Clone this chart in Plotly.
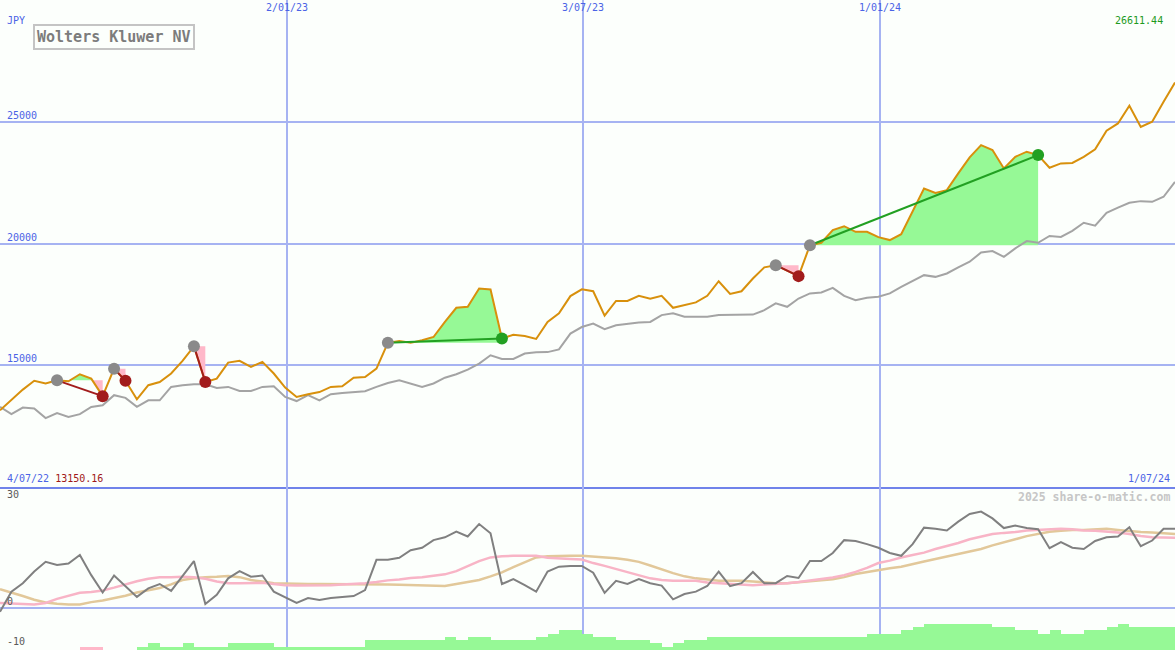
import plotly.graph_objects as go
import pandas as pd

# ---------------- data ----------------
dates = pd.date_range("2022-07-10", periods=104, freq="7D")

price = [13150.16, 13560, 14000, 14360, 14250, 14380, 14340, 14630, 14450, 13730,
         14860, 14360, 13600, 14180, 14310, 14660, 15180, 15780, 14310, 14450,
         15110, 15180, 14930, 15140, 14660, 14080, 13700, 13810, 13900, 14110,
         14140, 14490, 14520, 14860, 15920, 16000, 15920, 16030, 16160, 16780,
         17360, 17400, 18150, 18110, 16100, 16250, 16200, 16080, 16780, 17130,
         17840, 18120, 18040, 17040, 17640, 17640, 17850, 17730, 17850, 17360,
         17480, 17580, 17850, 18450, 17930, 18040, 18560, 19020, 19110, 18900,
         18660, 19930, 20030, 20550, 20710, 20480, 20480, 20260, 20140, 20380,
         21300, 22260, 22080, 22190, 22880, 23540, 24040, 23840, 23080, 23560,
         23770, 23630, 23110, 23290, 23310, 23560, 23870, 24630, 24930, 25660,
         24790, 25000, 25820, 26611.44]

bench = [13290, 12990, 13260, 13220, 12830, 13040, 12880, 12990, 13290, 13360,
         13770, 13660, 13290, 13560, 13560, 14110, 14180, 14220, 14220, 14070,
         14110, 13940, 13940, 14110, 14140, 13700, 13530, 13770, 13560, 13810,
         13860, 13900, 13930, 14110, 14270, 14380, 14250, 14110, 14250, 14490,
         14630, 14820, 15070, 15410, 15260, 15260, 15480, 15530, 15540, 15650,
         16300, 16570, 16710, 16480, 16640, 16710, 16760, 16780, 17060, 17130,
         16990, 16990, 16990, 17060, 17060, 17060, 17080, 17260, 17540, 17400,
         17740, 17950, 17990, 18180, 17850, 17670, 17770, 17810, 17950, 18220,
         18470, 18700, 18630, 18770, 19020, 19250, 19630, 19690, 19450, 19800,
         20100, 20030, 20310, 20270, 20520, 20850, 20730, 21260, 21470, 21670,
         21740, 21710, 21920, 22530]

osc = [-1.0, 4.0, 6.1, 9.0, 11.4, 10.6, 11.0, 13.1, 8.1, 3.8,
       8.0, 5.4, 2.7, 4.8, 5.9, 4.2, 7.9, 11.6, 0.9, 3.2,
       7.3, 9.1, 7.7, 8.0, 4.0, 2.7, 1.2, 2.4, 1.9, 2.4,
       2.7, 2.9, 4.4, 11.9, 11.9, 12.4, 14.3, 14.9, 16.8, 17.5,
       18.9, 17.7, 20.8, 18.5, 5.9, 7.1, 5.6, 4.0, 9.0, 10.2,
       10.4, 10.4, 8.7, 3.7, 6.7, 5.9, 7.1, 6.1, 5.5, 2.1,
       3.4, 4.0, 5.4, 9.0, 5.4, 6.1, 8.9, 6.1, 6.1, 7.9,
       7.4, 11.6, 11.6, 13.6, 16.8, 16.6, 15.8, 14.9, 13.6, 12.9,
       15.8, 19.9, 19.6, 19.2, 21.4, 23.3, 23.9, 22.2, 19.8, 20.4,
       19.8, 19.5, 14.8, 16.3, 14.9, 14.6, 16.6, 17.5, 17.7, 20.0,
       15.3, 16.7, 19.6, 19.6]

osc_fast = [1.2, 1.0, 0.9, 0.8, 1.2, 2.2, 3.0, 3.7, 3.9, 4.3,
            5.0, 5.8, 6.6, 7.2, 7.6, 7.6, 7.7, 7.6, 7.2, 6.5,
            6.1, 6.1, 6.1, 6.2, 5.9, 5.6, 5.5, 5.5, 5.6, 5.6,
            5.8, 5.9, 6.1, 6.4, 6.8, 7.0, 7.4, 7.6, 8.0, 8.3,
            9.1, 10.4, 11.6, 12.5, 12.8, 12.9, 12.9, 12.9, 12.4, 12.2,
            12.1, 12.0, 11.1, 10.4, 9.6, 8.9, 8.1, 7.3, 6.9, 6.7,
            6.7, 6.7, 6.3, 6.1, 5.9, 5.8, 5.6, 5.8, 5.9, 6.1,
            6.4, 6.8, 7.1, 7.5, 8.1, 8.9, 9.9, 11.1, 11.7, 12.5,
            13.1, 13.7, 14.6, 15.3, 16.1, 17.0, 17.6, 18.3, 18.6, 18.8,
            19.2, 19.3, 19.5, 19.6, 19.5, 19.2, 19.1, 18.9, 18.7, 18.3,
            17.8, 17.5, 17.5, 17.4]

osc_slow = [4.6, 3.8, 2.9, 2.0, 1.3, 1.0, 0.8, 0.8, 1.4, 1.8,
            2.4, 3.0, 3.8, 4.3, 4.9, 5.8, 6.9, 7.3, 7.6, 7.7,
            7.9, 7.6, 6.9, 6.5, 6.1, 6.0, 5.9, 5.9, 5.9, 5.9,
            5.9, 5.9, 5.9, 5.8, 5.8, 5.7, 5.6, 5.6, 5.5, 5.4,
            5.9, 6.4, 6.9, 7.8, 8.8, 10.1, 11.4, 12.5, 12.8, 12.9,
            12.9, 12.9, 12.7, 12.5, 12.3, 11.9, 11.4, 10.5, 9.5, 8.6,
            7.8, 7.3, 7.0, 6.7, 6.7, 6.7, 6.5, 6.3, 6.1, 6.1,
            6.3, 6.5, 6.8, 7.1, 7.6, 8.4, 8.9, 9.4, 9.8, 10.2,
            10.9, 11.5, 12.1, 12.7, 13.4, 14.0, 14.6, 15.5, 16.2, 17.0,
            17.8, 18.3, 18.9, 19.1, 19.3, 19.3, 19.5, 19.6, 19.3, 19.0,
            18.8, 18.7, 18.5, 18.3]

strength = [0, 0, 0, 0, 0, 0, 0, -1, -1, 0,
            0, 0, 1, 2, 1, 1, 2, 1, 1, 1,
            2, 2, 2, 2, 1, 1, 1, 1, 1, 1,
            1, 1, 3, 3, 3, 3, 3, 3, 3, 4,
            3, 4, 4, 3, 3, 3, 3, 4, 5, 6,
            6, 5, 4, 4, 3, 3, 3, 2, 1, 2,
            3, 3, 4, 4, 4, 4, 4, 4, 4, 4,
            4, 4, 4, 4, 4, 4, 5, 5, 5, 6,
            7, 8, 8, 8, 8, 8, 8, 7, 7, 6,
            6, 5, 6, 5, 5, 6, 6, 7, 8, 7,
            7, 7, 7, 0]

# trades: (start index, end index)
trades = [(5, 9), (10, 11), (17, 18), (34, 44), (68, 70), (71, 91)]

grid_dates = ["2023-01-02", "2023-07-03", "2024-01-01"]
grid_labels = ["2/01/23", "3/07/23", "1/01/24"]
price_ticks = [15000, 20000, 25000]
osc_ticks = [30, 0, -10]

title = "Wolters Kluwer NV"
currency = "JPY"
start_label = "4/07/22"
end_label = "1/07/24"
credit = "2025 share-o-matic.com"

# ---------------- styles ----------------
BG = "#fcfffc"
BLUE_TXT = "#4b63e6"
GRID = "#a6b3f2"
SEP = "#7083ea"
ORANGE = "#d8900c"
GREY_L = "#a4a4a4"
GREY_D = "#808080"
PINK = "#f8b4c6"
TAN = "#e2c89a"
FILL_G = "#96f996"
FILL_P = "#ffb8c9"
LINE_G = "#22a022"
LINE_R = "#a21c1c"
MONO = "DejaVu Sans Mono"

fig = go.Figure()


def regions(s, e):
    level = price[s]
    xs = list(dates[s:e + 1])
    ys = price[s:e + 1]
    pts = [(xs[0], ys[0])]
    for k in range(1, len(xs)):
        d0, d1 = ys[k - 1] - level, ys[k] - level
        if d0 * d1 < 0:
            t = d0 / (d0 - d1)
            pts.append((xs[k - 1] + (xs[k] - xs[k - 1]) * t, level))
        pts.append((xs[k], ys[k]))
    cuts = [i for i, p in enumerate(pts) if p[1] == level]
    if cuts[-1] != len(pts) - 1:
        cuts.append(len(pts) - 1)
    out = []
    for a, b in zip(cuts[:-1], cuts[1:]):
        seg = pts[a:b + 1]
        diff = sum(p[1] - level for p in seg)
        if diff == 0:
            continue
        px = [p[0] for p in seg] + [seg[-1][0], seg[0][0]]
        py = [p[1] for p in seg] + [level, level]
        out.append((px, py, FILL_G if diff > 0 else FILL_P))
    return out


# trade fills
for s, e in trades:
    for px, py, col in regions(s, e):
        fig.add_trace(go.Scatter(x=px, y=py, mode="lines", fill="toself",
                                 fillcolor=col, line=dict(width=0),
                                 hoverinfo="skip", showlegend=False,
                                 xaxis="x", yaxis="y"))

# benchmark and price lines
fig.add_trace(go.Scatter(x=dates, y=bench, mode="lines",
                         line=dict(color=GREY_L, width=2),
                         showlegend=False, xaxis="x", yaxis="y"))
fig.add_trace(go.Scatter(x=dates, y=price, mode="lines",
                         line=dict(color=ORANGE, width=2),
                         showlegend=False, xaxis="x", yaxis="y"))

# trade connectors and markers
for s, e in trades:
    gain = price[e] > price[s]
    col = LINE_G if gain else LINE_R
    fig.add_trace(go.Scatter(x=[dates[s], dates[e]], y=[price[s], price[e]],
                             mode="lines", line=dict(color=col, width=2),
                             showlegend=False, xaxis="x", yaxis="y"))
    fig.add_trace(go.Scatter(x=[dates[s]], y=[price[s]], mode="markers",
                             marker=dict(color="#8a8a8a", size=12),
                             showlegend=False, xaxis="x", yaxis="y"))
    fig.add_trace(go.Scatter(x=[dates[e]], y=[price[e]], mode="markers",
                             marker=dict(color=col, size=12),
                             showlegend=False, xaxis="x", yaxis="y"))

# lower panel: bars
fig.add_trace(go.Bar(x=dates, y=[abs(v) for v in strength],
                     marker=dict(color=[FILL_G if v >= 0 else FILL_P for v in strength],
                                 line=dict(width=0)),
                     width=7 * 86400000, offset=0,
                     showlegend=False, xaxis="x2", yaxis="y3"))

# lower panel: oscillator lines
fig.add_trace(go.Scatter(x=dates, y=osc_slow, mode="lines",
                         line=dict(color=TAN, width=2.5),
                         showlegend=False, xaxis="x2", yaxis="y2"))
fig.add_trace(go.Scatter(x=dates, y=osc_fast, mode="lines",
                         line=dict(color=PINK, width=2.5),
                         showlegend=False, xaxis="x2", yaxis="y2"))
fig.add_trace(go.Scatter(x=dates, y=osc, mode="lines",
                         line=dict(color=GREY_D, width=2),
                         showlegend=False, xaxis="x2", yaxis="y2"))

split = 163 / 650

annotations = []
# top date labels
for d, lab in zip(grid_dates, grid_labels):
    annotations.append(dict(x=d, xref="x", y=1, yref="paper", text=lab,
                            showarrow=False, xanchor="center", yanchor="top",
                            font=dict(family=MONO, size=10, color=BLUE_TXT)))
# price tick labels
for v in price_ticks:
    annotations.append(dict(x=0.004, xref="paper", y=v, yref="y", text=str(v),
                            showarrow=False, xanchor="left", yanchor="bottom",
                            yshift=-1,
                            font=dict(family=MONO, size=10, color=BLUE_TXT)))
# oscillator labels
for v in osc_ticks:
    anchor = "top" if v == max(osc_ticks) else "bottom"
    annotations.append(dict(x=0.004, xref="paper", y=v, yref="y2", text=str(v),
                            showarrow=False, xanchor="left", yanchor=anchor,
                            yshift=0 if anchor == "top" else -1,
                            font=dict(family=MONO, size=10, color="#5a5a5a")))

annotations += [
    dict(x=0.004, xref="paper", y=1 - 21 / 650, yref="paper", text=currency,
         showarrow=False, xanchor="left", yanchor="middle",
         font=dict(family=MONO, size=10, color=BLUE_TXT)),
    dict(x=33 / 1175, xref="paper", y=1 - 24 / 650, yref="paper", text=f"<b>{title}</b>",
         showarrow=False, xanchor="left", yanchor="top",
         bordercolor="#c4c4c4", borderwidth=2, borderpad=2, bgcolor=BG,
         font=dict(family=MONO, size=15, color="#7c7c7c")),
    dict(x=1 - 10 / 1175, xref="paper", y=1 - 21 / 650, yref="paper",
         text=f"{price[-1]:.2f}", showarrow=False, xanchor="right", yanchor="middle",
         font=dict(family=MONO, size=10, color="#1e9a1e")),
    dict(x=0.004, xref="paper", y=split, yref="paper",
         text=f"<span style='color:{BLUE_TXT}'>{start_label}</span> "
              f"<span style='color:#a01818'>{price[0]:.2f}</span>",
         showarrow=False, xanchor="left", yanchor="bottom", yshift=1,
         font=dict(family=MONO, size=10, color=BLUE_TXT)),
    dict(x=1 - 3 / 1175, xref="paper", y=split, yref="paper", text=end_label,
         showarrow=False, xanchor="right", yanchor="bottom", yshift=1,
         font=dict(family=MONO, size=10, color=BLUE_TXT)),
    dict(x=1 - 3 / 1175, xref="paper", y=split, yref="paper", text=f"<b>{credit}</b>",
         showarrow=False, xanchor="right", yanchor="top", yshift=-1,
         font=dict(family=MONO, size=11.5, color="#c6c6c6")),
]

fig.update_layout(
    width=1175, height=650, autosize=False,
    margin=dict(l=0, r=0, t=0, b=0),
    paper_bgcolor=BG, plot_bgcolor=BG,
    showlegend=False, bargap=0, hovermode=False,
    xaxis=dict(domain=[0, 1], anchor="y", range=[dates[0], dates[-1]],
               tickvals=grid_dates, showticklabels=False, ticks="",
               showgrid=True, gridcolor=GRID, gridwidth=1.5, zeroline=False,
               showline=True, linecolor=SEP, linewidth=2),
    xaxis2=dict(domain=[0, 1], anchor="y2", matches="x", range=[dates[0], dates[-1]],
                tickvals=grid_dates, showticklabels=False, ticks="",
                showgrid=True, gridcolor=GRID, gridwidth=1.5, zeroline=False,
                showline=False),
    yaxis=dict(domain=[split, 1], anchor="x", range=[10000, 30000],
               tickvals=price_ticks, showticklabels=False, ticks="",
               showgrid=True, gridcolor=GRID, gridwidth=2, zeroline=False),
    yaxis2=dict(domain=[0, split], anchor="x2", range=[-10.5, 30],
                tickvals=[0], showticklabels=False, ticks="",
                showgrid=True, gridcolor=GRID, gridwidth=2, zeroline=False),
    yaxis3=dict(overlaying="y2", anchor="x2", range=[0, 50], visible=False),
    annotations=annotations,
)

fig.write_html(
    "out.html",
    config={"displayModeBar": False},
    post_script="document.body.style.margin='0';document.body.style.padding='0';"
                "document.body.style.overflow='hidden';"
                "document.body.style.background='" + BG + "';",
)
